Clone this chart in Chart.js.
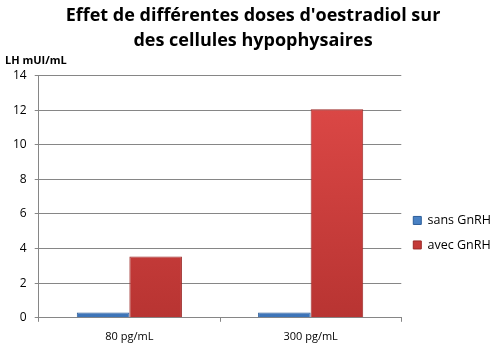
<!DOCTYPE html>
<html>
<head>
<meta charset="utf-8">
<script src="https://cdn.jsdelivr.net/npm/chart.js@4.4.1/dist/chart.umd.min.js"></script>
<style>
  html, body { margin: 0; padding: 0; background: #fff; }
  #wrap { width: 501px; height: 351px; }
</style>
</head>
<body>
<div id="wrap"><canvas id="chart"></canvas></div>
<script>
const doses = ['80 pg/mL', '300 pg/mL'];
const sansGnRH = [0.3, 0.3];
const avecGnRH = [3.55, 12.05];
const yTicks = [0, 2, 4, 6, 8, 10, 12, 14];

// vertical gradient so the bars get a bit of the old Excel bevel look
function grad(top, bottom) {
  return ctx => {
    const area = ctx.chart.chartArea;
    if (!area) return top;
    const g = ctx.chart.ctx.createLinearGradient(0, area.top, 0, area.bottom);
    g.addColorStop(0, top);
    g.addColorStop(1, bottom);
    return g;
  };
}

new Chart(document.getElementById('chart'), {
  type: 'bar',
  data: {
    labels: doses,
    datasets: [
      {
        label: 'sans GnRH',
        data: sansGnRH,
        backgroundColor: grad('#5b95d6', '#3d74b8'),
        borderColor: '#2c5d99',
        borderWidth: 1
      },
      {
        label: 'avec GnRH',
        data: avecGnRH,
        backgroundColor: grad('#e04a48', '#b83432'),
        borderColor: '#9c2a28',
        borderWidth: 1
      }
    ]
  },
  options: {
    responsive: true,
    maintainAspectRatio: false,
    animation: false,
    layout: { padding: { left: 5, right: 0, top: 0, bottom: 0 } },
    datasets: {
      bar: { categoryPercentage: 0.58, barPercentage: 1 }
    },
    plugins: {
      title: {
        display: true,
        text: ["Effet de différentes doses d'oestradiol sur", 'des cellules hypophysaires'],
        color: '#000',
        font: { family: "'Open Sans', sans-serif", size: 18, weight: 'bold', lineHeight: 1.4 },
        padding: { top: 3, bottom: 0 }
      },
      subtitle: {
        display: true,
        text: 'LH mUI/mL',
        align: 'start',
        color: '#000',
        font: { family: "'Open Sans', sans-serif", size: 11, weight: 'bold' },
        padding: { top: 1, bottom: 8 }
      },
      legend: {
        position: 'right',
        title: { display: true, text: '', padding: 50 },
        labels: {
          boxWidth: 8,
          boxHeight: 8,
          padding: 12,
          color: '#000',
          font: { family: "'Open Sans', sans-serif", size: 12.5 }
        }
      },
      tooltip: { enabled: false }
    },
    scales: {
      x: {
        offset: true,
        grid: { display: true, drawOnChartArea: false, offset: true, color: '#868686', tickLength: 4 },
        border: { color: '#868686' },
        ticks: { color: '#000', font: { family: "'Open Sans', sans-serif", size: 11 }, padding: 8 }
      },
      y: {
        min: 0,
        max: 14,
        afterBuildTicks: axis => { axis.ticks = yTicks.map(v => ({ value: v })); },
        grid: { color: '#868686', tickLength: 4 },
        border: { color: '#868686' },
        ticks: { color: '#000', font: { family: "'Open Sans', sans-serif", size: 12 }, padding: 8 }
      }
    }
  }
});
</script>
</body>
</html>
